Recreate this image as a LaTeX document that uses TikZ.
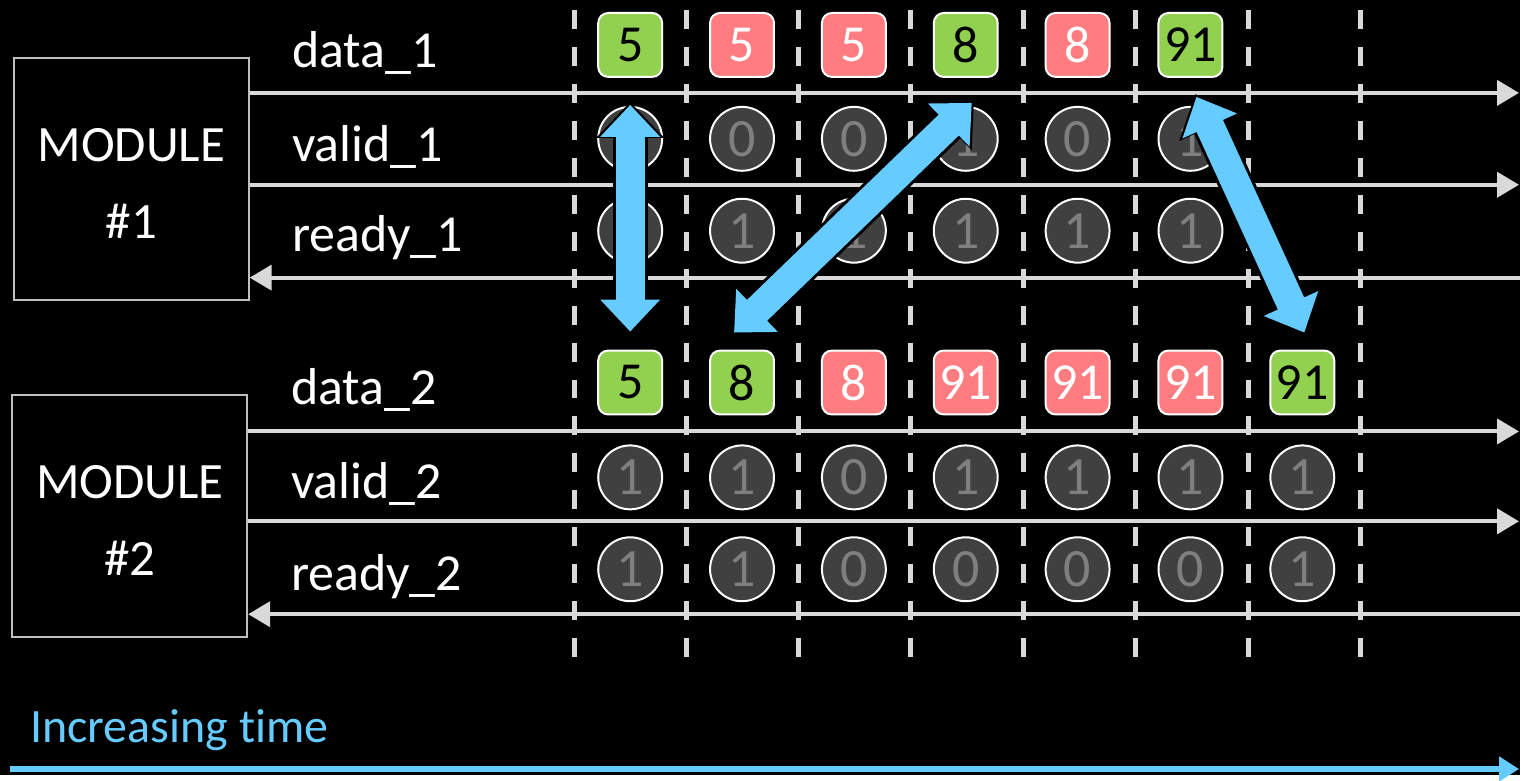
\documentclass[tikz,border=0pt]{standalone}
\usepackage{fontspec}
\setmainfont{Carlito}[Ligatures=NoCommon]
\usepackage{tikz}
\usetikzlibrary{arrows.meta,calc}
\definecolor{sigline} {HTML}{D9D9D9}
\definecolor{boxedge} {HTML}{BFBFBF}
\definecolor{skyblue} {HTML}{66CCFF}
\definecolor{okgreen} {HTML}{92D050}
\definecolor{stallred}{HTML}{FF7C80}
\definecolor{bitgray} {HTML}{404040}
\definecolor{bittext} {HTML}{7F7F7F}
\newcommand{\modtext}[1]{\raisebox{-3pt}[\height][\depth]{%
  \begin{tabular}{@{}c@{}}MODULE\\#1\end{tabular}}}
\tikzset{
  modbox/.style   ={draw=boxedge, fill=black, line width=1pt, text=white,
                    minimum width=117.5pt, minimum height=121pt, inner sep=0pt,
                    font=\fontsize{25.5}{38.5}\selectfont},
  siglabel/.style ={anchor=base west, inner sep=0pt, text=white,
                    font=\fontsize{26}{31}\selectfont},
  goodbox/.style  ={draw=white, fill=okgreen, line width=1pt, rounded corners=5pt,
                    minimum size=32pt, inner sep=0pt, text=black,
                    font=\fontsize{26}{30}\selectfont},
  stallbox/.style ={goodbox, fill=stallred, text=white},
  bitdot/.style   ={circle, draw=white, fill=bitgray, line width=1pt,
                    minimum size=32pt, inner sep=0pt, text=bittext,
                    font=\fontsize{27}{31}\selectfont},
  cyclesep/.style ={draw=sigline, line width=2.5pt, dash pattern=on 9.5pt off 9pt},
  fwdarr/.style   ={draw=sigline, line width=2pt, -{Triangle[length=11pt,width=12.5pt]}},
  bwdarr/.style   ={draw=sigline, line width=2pt, {Triangle[length=11pt,width=12.5pt]}-},
  syncrim/.style  ={draw=black, line width=17.5pt,
                    {Triangle[length=18pt,width=33pt]}-{Triangle[length=18pt,width=33pt]},
                    shorten <=-1.5pt, shorten >=-1.5pt},
  syncarr/.style  ={draw=skyblue, line width=14.5pt,
                    {Triangle[length=16pt,width=29pt]}-{Triangle[length=16pt,width=29pt]}},
  timearr/.style  ={draw=skyblue, line width=3pt, -{Triangle[length=10pt,width=12pt]}},
}
\begin{document}
\begin{tikzpicture}[x=0.5pt,y=-0.5pt]
        \fill[black] (0,0) rectangle (1522,776);
        % clock cycle borders
        \foreach \cx in {575,687,800,912,1025,1137,1250,1362}
          \draw[cyclesep] (\cx,10) -- (\cx,665);
        % modules
        \node[modbox] (m1) at (131.5,179) {\modtext{\#1}};
        \node[modbox] (m2) at (130,516.5) {\modtext{\#2}};
        \coordinate (d1end) at (1521,93);
        \coordinate (v1end) at (1521,185);
        \coordinate (r1end) at (1522,278);
        \coordinate (d2end) at (1521,432);
        \coordinate (v2end) at (1521,522);
        \coordinate (r2end) at (1522,615);
        \draw[fwdarr] (m1.east |- d1end) -- (d1end);
        \draw[fwdarr] (m1.east |- v1end) -- (v1end);
        \draw[bwdarr] (m1.east |- r1end) -- (r1end);
        \draw[fwdarr] (m2.east |- d2end) -- (d2end);
        \draw[fwdarr] (m2.east |- v2end) -- (v2end);
        \draw[bwdarr] (m2.east |- r2end) -- (r2end);
        \node[siglabel] (ld1) at (292,68)  {data\_1};
        \node[siglabel] (lv1) at (292,162) {valid\_1};
        \node[siglabel] (lr1) at (292,252) {ready\_1};
        \node[siglabel] (ld2) at (291,405) {data\_2};
        \node[siglabel] (lv2) at (291,499) {valid\_2};
        \node[siglabel] (lr2) at (291,591) {ready\_2};
        % interface 1
        \node[goodbox]  (d1a) at (631,45)  {5};
        \node[stallbox] (d1b) at (743,45)  {5};
        \node[stallbox] (d1c) at (855,45)  {5};
        \node[goodbox]  (d1d) at (967,45)  {8};
        \node[stallbox] (d1e) at (1079,45) {8};
        \node[goodbox]  (d1f) at (1192,45) {91};
        \node[bitdot] (v1a) at (631,139)  {1};
        \node[bitdot] (v1b) at (743,139)  {0};
        \node[bitdot] (v1c) at (855,139)  {0};
        \node[bitdot] (v1d) at (967,139)  {1};
        \node[bitdot] (v1e) at (1079,139) {0};
        \node[bitdot] (v1f) at (1192,139) {1};
        \node[bitdot] (r1a) at (631,231)  {1};
        \node[bitdot] (r1b) at (743,231)  {1};
        \node[bitdot] (r1c) at (855,231)  {1};
        \node[bitdot] (r1d) at (967,231)  {1};
        \node[bitdot] (r1e) at (1079,231) {1};
        \node[bitdot] (r1f) at (1192,231) {1};
        % interface 2
        \node[goodbox]  (d2a) at (631,383)  {5};
        \node[goodbox]  (d2b) at (743,383)  {8};
        \node[stallbox] (d2c) at (855,383)  {8};
        \node[stallbox] (d2d) at (967,383)  {91};
        \node[stallbox] (d2e) at (1079,383) {91};
        \node[stallbox] (d2f) at (1192,383) {91};
        \node[goodbox]  (d2g) at (1304,383) {91};
        \node[bitdot] (v2a) at (631,478)  {1};
        \node[bitdot] (v2b) at (743,478)  {1};
        \node[bitdot] (v2c) at (855,478)  {0};
        \node[bitdot] (v2d) at (967,478)  {1};
        \node[bitdot] (v2e) at (1079,478) {1};
        \node[bitdot] (v2f) at (1192,478) {1};
        \node[bitdot] (v2g) at (1304,478) {1};
        \node[bitdot] (r2a) at (631,570)  {1};
        \node[bitdot] (r2b) at (743,570)  {1};
        \node[bitdot] (r2c) at (855,570)  {0};
        \node[bitdot] (r2d) at (967,570)  {0};
        \node[bitdot] (r2e) at (1079,570) {0};
        \node[bitdot] (r2f) at (1192,570) {0};
        \node[bitdot] (r2g) at (1304,570) {1};
        % transfers
        \draw[syncrim] ($(d1a.south)+(0,27)$) -- ($(d2a.north)+(0,-18)$);
        \draw[syncarr] ($(d1a.south)+(0,27)$) -- ($(d2a.north)+(0,-18)$);
        \draw[syncrim] ($(d2b.north)+(-8,-17)$) -- ($(d1d.south)+(6,25)$);
        \draw[syncarr] ($(d2b.north)+(-8,-17)$) -- ($(d1d.south)+(6,25)$);
        \draw[syncrim] ($(d1f.south)+(6,19)$) -- ($(d2g.north)+(2,-17)$);
        \draw[syncarr] ($(d1f.south)+(6,19)$) -- ($(d2g.north)+(2,-17)$);
        % time axis
        \node[anchor=base west, inner sep=0pt, text=skyblue,
              font=\fontsize{24}{29}\selectfont] (tlabel) at (30,743) {Increasing time};
        \coordinate (t0) at (10,770);
        \coordinate (t1) at (1521,770);
        \draw[timearr] (t0) -- (t1);
      \end{tikzpicture}
\end{document}
